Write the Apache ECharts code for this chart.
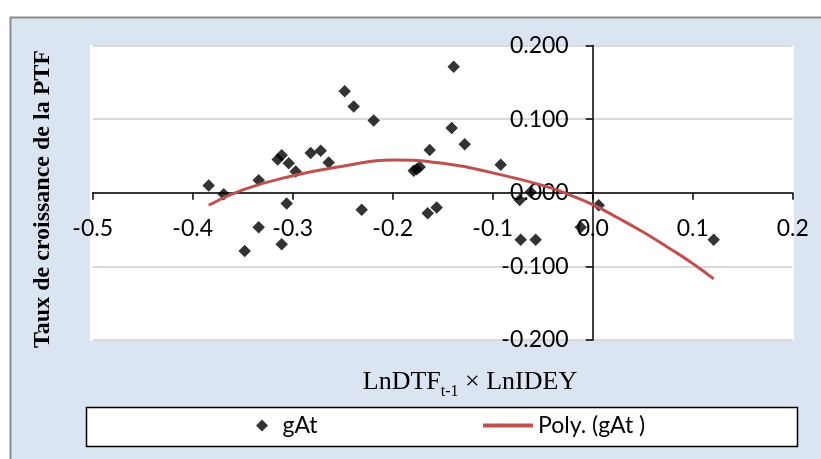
<!DOCTYPE html>
<html><head><meta charset="utf-8">
<script src="https://cdn.jsdelivr.net/npm/echarts@6/dist/echarts.min.js"></script>
<style>html,body{margin:0;padding:0;background:#fff}#c{width:821px;height:459px}</style>
</head><body><div id="c"></div>
<script>
// Scatter data (gAt)
const gAtX = [-0.384,-0.369,-0.348,-0.334,-0.334,-0.315,-0.311,-0.311,-0.306,-0.304,-0.297,-0.282,-0.272,-0.264,-0.248,-0.239,-0.231,-0.219,-0.179,-0.176,-0.173,-0.165,-0.163,-0.156,-0.141,-0.139,-0.128,-0.092,-0.073,-0.072,-0.062,-0.057,-0.012,0.006,0.121];
const gAtY = [0.010,-0.002,-0.079,0.017,-0.047,0.045,0.051,-0.070,-0.0145,0.040,0.029,0.054,0.057,0.041,0.138,0.117,-0.023,0.098,0.030,0.032,0.035,-0.028,0.058,-0.020,0.088,0.171,0.066,0.038,-0.010,-0.064,0.001,-0.064,-0.047,-0.017,-0.064];
// Polynomial trend line
const polyX = [-0.384,-0.35,-0.3,-0.25,-0.2,-0.15,-0.1,-0.05,-0.025,0,0.025,0.05,0.075,0.1,0.121];
const polyY = [-0.017,0.004,0.023,0.036,0.0445,0.040,0.027,0.010,-0.002,-0.016,-0.034,-0.053,-0.074,-0.096,-0.117];
// Axes
const xMin = -0.5, xMax = 0.2, xStep = 0.1;
const yMin = -0.2, yMax = 0.2, yStep = 0.1;
const seriesNames = ['gAt', 'Poly. (gAt )'];
const yTitle = 'Taux de croissance de la PTF';

const sans = 'Lato';
const G = {left: 92.7, right: 28.3, top: 45.5, bottom: 119};
const W = 821, H = 459;
const gw = W - G.left - G.right, gh = H - G.top - G.bottom;
// shift axes so that they cross at the origin (the axes sit on the zero of the other one)
const xAxisOffset = -((0 - yMin) / (yMax - yMin)) * gh;
const yAxisOffset = -((0 - xMin) / (xMax - xMin)) * gw;

const chart = echarts.init(document.getElementById('c'), null, {renderer: 'canvas'});
chart.setOption({
  animation: false,
  backgroundColor: '#ffffff',
  graphic: [
    {type: 'rect', z: -20, shape: {x: 10.5, y: 17.5, width: 830, height: 460},
     style: {fill: '#DBE5F1', stroke: '#8C8C8C', lineWidth: 2}},
    {type: 'rect', z: -19, shape: {x: 90, y: 45, width: 704, height: 296},
     style: {fill: '#ffffff'}},
    {type: 'rect', z: -18, shape: {x: 86.5, y: 407.5, width: 711, height: 39},
     style: {fill: '#ffffff', stroke: '#000000', lineWidth: 1.5}},
    {type: 'text', z: 10, x: 43, y: 199, rotation: Math.PI / 2,
     style: {text: yTitle, textAlign: 'center', textVerticalAlign: 'middle',
       font: 'bold 24px "Liberation Serif"', fill: '#000'}},
    {type: 'text', z: 10, x: 470, y: 382,
     style: {text: '{a|LnDTF}{s|t-1}{a| × LnIDEY}', textAlign: 'center', textVerticalAlign: 'middle',
       fill: '#000',
       rich: {
         a: {fontFamily: 'Liberation Serif', fontSize: 26, lineHeight: 36, verticalAlign: 'middle'},
         s: {fontFamily: 'Liberation Serif', fontSize: 16, lineHeight: 36, verticalAlign: 'bottom'}
       }}}
  ],
  grid: {left: G.left, right: G.right, top: G.top, bottom: G.bottom, containLabel: false},
  xAxis: {
    type: 'value', min: xMin, max: xMax, interval: xStep,
    position: 'bottom', offset: xAxisOffset,
    axisLine: {onZero: false, lineStyle: {color: '#000', width: 1.5}},
    axisTick: {show: true, inside: false, length: 7, lineStyle: {color: '#000', width: 1.5}},
    axisLabel: {margin: 24, color: '#000', fontFamily: sans, fontSize: 23,
      formatter: v => v.toFixed(1)},
    splitLine: {show: false}
  },
  yAxis: {
    type: 'value', min: yMin, max: yMax, interval: yStep,
    position: 'left', offset: yAxisOffset,
    axisLine: {onZero: false, lineStyle: {color: '#000', width: 1.5}},
    axisTick: {show: true, inside: false, length: 7, lineStyle: {color: '#000', width: 1.5}},
    axisLabel: {margin: 24, color: '#000', fontFamily: sans, fontSize: 23,
      formatter: v => v.toFixed(3)},
    splitLine: {show: true, lineStyle: {color: '#D9D9D9', width: 2}}
  },
  legend: [
    {data: [{name: seriesNames[0], icon: 'path://M0,6L6,0L12,6L6,12Z M21.5,6L21.5,6Z'}],
     left: 256, top: 414, padding: 0, itemWidth: 21.5, itemHeight: 12,
     textStyle: {color: '#000', fontFamily: sans, fontSize: 23}},
    {data: [{name: seriesNames[1], icon: 'rect'}], left: 483, top: 414, padding: 0, itemWidth: 50, itemHeight: 4,
     textStyle: {color: '#000', fontFamily: sans, fontSize: 23}}
  ],
  series: [
    {name: seriesNames[0], type: 'scatter', symbol: 'diamond', symbolSize: 12.5,
     itemStyle: {color: '#000'}, z: 3,
     data: gAtX.map((x, i) => [x, gAtY[i]])},
    {name: seriesNames[1], type: 'line', smooth: true, symbol: 'none', showSymbol: false,
     lineStyle: {color: '#C0504D', width: 3}, itemStyle: {color: '#C0504D'}, z: 4,
     data: polyX.map((x, i) => [x, polyY[i]])}
  ]
});
</script></body></html>
